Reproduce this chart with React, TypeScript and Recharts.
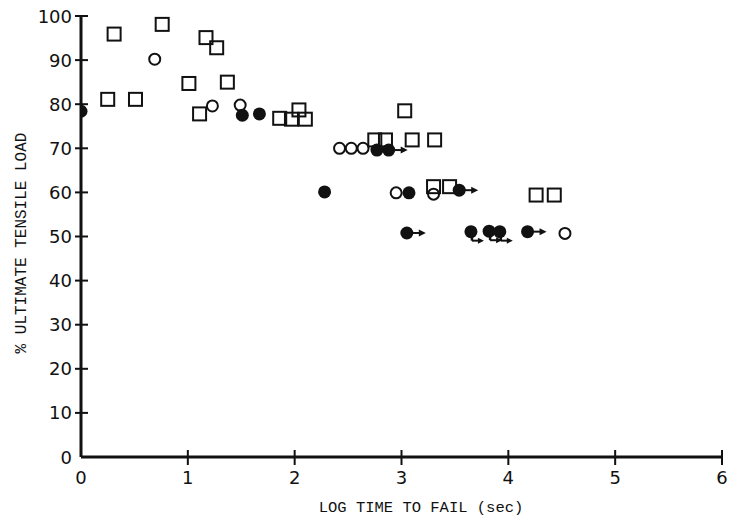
import React from 'react';
import { ScatterChart, Scatter, XAxis, YAxis } from 'recharts';

// [log time to fail (sec), % ultimate tensile load]
const openSquares: [number, number][] = [
  [0.25, 81.1], [0.31, 95.9], [0.51, 81.1], [0.76, 98.1], [1.01, 84.7],
  [1.11, 77.8], [1.17, 95.1], [1.27, 92.8], [1.37, 85.0], [1.86, 76.8],
  [1.97, 76.6], [2.04, 78.7], [2.10, 76.6], [2.75, 71.9], [2.85, 71.9],
  [3.03, 78.5], [3.10, 71.9], [3.31, 71.9], [3.30, 61.3], [3.45, 61.3],
  [4.26, 59.4], [4.43, 59.4],
];

const openCircles: [number, number][] = [
  [0.69, 90.2], [1.23, 79.6], [1.49, 79.8], [2.42, 70.0], [2.53, 70.0],
  [2.64, 70.0], [2.95, 59.9], [3.30, 59.6], [4.53, 50.7],
];

const filledCircles: [number, number][] = [
  [0.0, 78.4], [1.51, 77.5], [1.67, 77.8], [2.28, 60.1], [2.77, 69.6],
  [2.88, 69.6], [3.05, 50.8], [3.07, 59.9], [3.54, 60.5], [3.65, 51.1],
  [3.82, 51.2], [3.92, 51.1], [4.18, 51.1],
];

// run-outs (did not fail): arrow direction
const runoutRight: [number, number][] = [
  [2.88, 69.6], [3.54, 60.5], [3.05, 50.8], [4.18, 51.1],
];
const runoutBelow: [number, number][] = [
  [3.65, 51.1], [3.82, 51.2], [3.92, 51.1],
];

const xTicks = [0, 1, 2, 3, 4, 5, 6];
const yTicks = [0, 10, 20, 30, 40, 50, 60, 70, 80, 90, 100];

const xTitle = 'LOG TIME TO FAIL (sec)';
const yTitle = '% ULTIMATE TENSILE LOAD';

const toData = (arr: [number, number][]) => arr.map(([x, y]) => ({ x, y }));

const INK = '#111';
const TICK_FONT = '"DejaVu Sans", sans-serif';
const TITLE_FONT = '"Liberation Mono", "DejaVu Sans Mono", monospace';

const SquareShape = (p: any) => (
  <rect x={p.cx - 6.5} y={p.cy - 6.5} width={13} height={13} fill="none" stroke={INK} strokeWidth={2} />
);
const CircleShape = (p: any) => (
  <circle cx={p.cx} cy={p.cy} r={5.5} fill="none" stroke={INK} strokeWidth={2} />
);
const DotShape = (p: any) => <circle cx={p.cx} cy={p.cy} r={6.5} fill={INK} />;

const ArrowRight = (p: any) => {
  const x0 = p.cx + 5;
  const tip = p.cx + 19;
  const y = p.cy;
  return (
    <g>
      <line x1={x0} y1={y} x2={tip - 5} y2={y} stroke={INK} strokeWidth={2} />
      <polygon points={`${tip},${y} ${tip - 7},${y - 3.5} ${tip - 7},${y + 3.5}`} fill={INK} />
    </g>
  );
};

const ArrowBelow = (p: any) => {
  const sx = p.cx + 1;
  const sy = p.cy + 9;
  const tip = p.cx + 13;
  return (
    <g>
      <line x1={sx} y1={p.cy + 4} x2={sx} y2={sy} stroke={INK} strokeWidth={2.5} />
      <line x1={sx} y1={sy} x2={tip - 4} y2={sy} stroke={INK} strokeWidth={2} />
      <polygon points={`${tip},${sy} ${tip - 6},${sy - 3} ${tip - 6},${sy + 3}`} fill={INK} />
    </g>
  );
};

const YTick = (p: any) => {
  const { x, y, payload } = p;
  return (
    <g>
      {payload.value !== 0 && (
        <line x1={x - 6} x2={x + 7} y1={y} y2={y} stroke={INK} strokeWidth={2} />
      )}
      <text
        x={x - 9}
        y={y}
        textAnchor="end"
        dominantBaseline="central"
        fontFamily={TICK_FONT}
        fontSize={18}
        fill={INK}
      >
        {payload.value}
      </text>
    </g>
  );
};

const XTick = (p: any) => {
  const { x, y, payload } = p;
  return (
    <g>
      {payload.value !== 0 && (
        <line x1={x} x2={x} y1={y - 7} y2={y + 8} stroke={INK} strokeWidth={2} />
      )}
      <text
        x={x}
        y={y + 20}
        textAnchor="middle"
        dominantBaseline="central"
        fontFamily={TICK_FONT}
        fontSize={18}
        fill={INK}
      >
        {payload.value}
      </text>
    </g>
  );
};

const YTitle = () => (
  <text
    x={22}
    y={243}
    transform="rotate(-90 22 243)"
    textAnchor="middle"
    dominantBaseline="central"
    fontFamily={TITLE_FONT}
    fontSize={16}
    fill={INK}
  >
    {yTitle}
  </text>
);

const XTitle = () => (
  <text
    x={421}
    y={508}
    textAnchor="middle"
    dominantBaseline="central"
    fontFamily={TITLE_FONT}
    fontSize={15.5}
    fill={INK}
  >
    {xTitle}
  </text>
);

export default function App() {
  return (
    <div style={{ position: 'absolute', left: 0, top: 0, background: '#fff' }}>
      <ScatterChart width={731} height={521} margin={{ top: 16, right: 9, bottom: 0, left: 0 }}>
        <XAxis
          type="number"
          dataKey="x"
          domain={[0, 6]}
          ticks={xTicks}
          height={64}
          tickSize={0}
          tickMargin={0}
          tickLine={false}
          axisLine={{ stroke: INK, strokeWidth: 3 }}
          tick={<XTick />}
          label={<XTitle />}
          allowDataOverflow
        />
        <YAxis
          type="number"
          dataKey="y"
          domain={[0, 100]}
          ticks={yTicks}
          width={81}
          tickSize={0}
          tickMargin={0}
          tickLine={false}
          axisLine={{ stroke: INK, strokeWidth: 3 }}
          tick={<YTick />}
          label={<YTitle />}
          allowDataOverflow
        />
        <Scatter data={toData(openSquares)} shape={SquareShape} isAnimationActive={false} />
        <Scatter data={toData(openCircles)} shape={CircleShape} isAnimationActive={false} />
        <Scatter data={toData(filledCircles)} shape={DotShape} isAnimationActive={false} />
        <Scatter data={toData(runoutRight)} shape={ArrowRight} isAnimationActive={false} />
        <Scatter data={toData(runoutBelow)} shape={ArrowBelow} isAnimationActive={false} />
      </ScatterChart>
    </div>
  );
}
